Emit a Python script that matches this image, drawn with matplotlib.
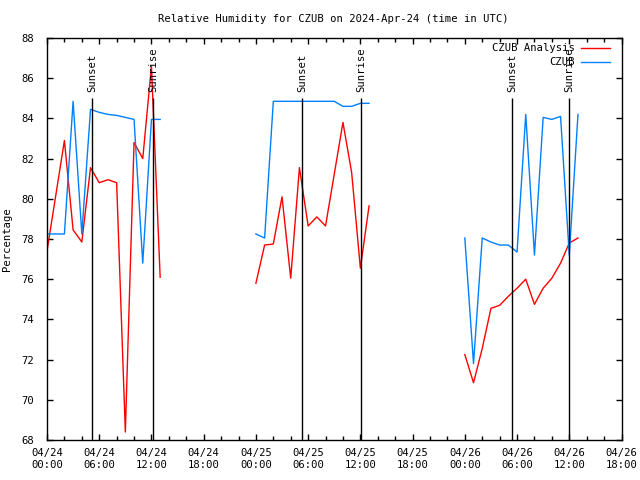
import numpy as np
import matplotlib
matplotlib.use("Agg")
import matplotlib.pyplot as plt
from matplotlib.ticker import FixedLocator

nan = np.nan
# hours since 2024-04-24 00:00 UTC
red_hours = [0, 2, 3, 4, 5, 6, 7, 8, 9, 10, 11, 12, 13, 13.5,
             24, 25, 26, 27, 28, 29, 30, 31, 32, 34, 35, 36, 37, 37.5,
             48, 49, 50, 51, 52, 53, 54, 55, 56, 57, 58, 59, 60, 61]
red_vals = [77.4, 82.9, 78.45, 77.85, 81.55, 80.8, 80.95, 80.8, 68.4, 82.8, 82.0, 86.6, 76.1, nan,
            75.8, 77.7, 77.75, 80.1, 76.05, 81.55, 78.65, 79.1, 78.65, 83.8, 81.3, 76.55, 79.65, nan,
            72.25, 70.85, 72.55, 74.55, 74.7, 75.15, 75.55, 76.0, 74.75, 75.55, 76.05, 76.8, 77.8, 78.05]

blue_hours = [0, 2, 3, 4, 5, 6, 7, 8, 9, 10, 11, 12, 13, 13.5,
              24, 25, 26, 33, 34, 35, 36, 37, 37.5,
              48, 49, 50, 51, 52, 53, 54, 55, 56, 57, 58, 59, 60, 61]
blue_vals = [78.25, 78.25, 84.85, 78.25, 84.45, 84.3, 84.2, 84.15, 84.05, 83.95, 76.8, 83.95, 83.95, nan,
             78.25, 78.05, 84.85, 84.85, 84.6, 84.6, 84.75, 84.75, nan,
             78.05, 71.8, 78.05, 77.85, 77.7, 77.7, 77.35, 84.2, 77.2, 84.05, 83.95, 84.1, 77.2, 84.2]

sun_times = [5.22, 12.2, 29.33, 36.07, 53.45, 60.0]
sun_labels = ["Sunset", "Sunrise", "Sunset", "Sunrise", "Sunset", "Sunrise"]

xtick_labels = ["04/24\n00:00", "04/24\n06:00", "04/24\n12:00", "04/24\n18:00",
                "04/25\n00:00", "04/25\n06:00", "04/25\n12:00", "04/25\n18:00",
                "04/26\n00:00", "04/26\n06:00", "04/26\n12:00", "04/26\n18:00"]

FONT = "DejaVu Sans Mono"
FS = 7.6
plt.rcParams['font.family'] = [FONT]

fig = plt.figure(figsize=(6.4, 4.8), dpi=100)
ax = fig.add_axes([47/640, 1 - 440/480, 574.5/640, 402/480])

ax.plot(red_hours, red_vals, color="#ff0000", lw=1.0)
ax.plot(blue_hours, blue_vals, color="#0080ff", lw=1.0)

for t, lab in zip(sun_times, sun_labels):
    ax.vlines(t, 68, 85, color="black", lw=1.0)
    ax.text(t, 85.3, lab, rotation=90, ha="center", va="bottom", fontsize=FS)

ax.set_xlim(0, 66)
ax.set_ylim(68, 88)
ax.xaxis.set_major_locator(FixedLocator(np.arange(0, 67, 6)))
ax.xaxis.set_minor_locator(FixedLocator(np.arange(0, 67, 2)))
ax.set_xticklabels(xtick_labels)
ax.set_yticks(np.arange(68, 89, 2))
ax.tick_params(axis="both", which="both", direction="in", top=True, right=True,
               labelsize=FS, width=1.0, color="black")
ax.tick_params(axis="both", which="major", length=4)
ax.tick_params(axis="both", which="minor", length=3)
ax.tick_params(axis="x", pad=6)
ax.tick_params(axis="y", pad=9)
for s in ax.spines.values():
    s.set_linewidth(1.0)

ax.set_ylabel("Percentage", fontsize=FS)
ax.yaxis.set_label_coords((12 - 47) / 574.5, 0.5)
fig.text(333/640, 1 - 19/480, "Relative Humidity for CZUB on 2024-Apr-24 (time in UTC)",
         ha="center", va="center", fontsize=FS)

# legend (gnuplot style: text right aligned, sample to the right)
leg = [("CZUB Analysis", "#ff0000", 48), ("CZUB", "#0080ff", 62)]
for txt, col, ypx in leg:
    yf = 1 - ypx / 480
    fig.text(575/640, yf, txt, ha="right", va="center", fontsize=FS)
    fig.add_artist(plt.Line2D([581/640, 610/640], [yf, yf], color=col, lw=1.0))

fig.savefig("out.png", dpi=100)
